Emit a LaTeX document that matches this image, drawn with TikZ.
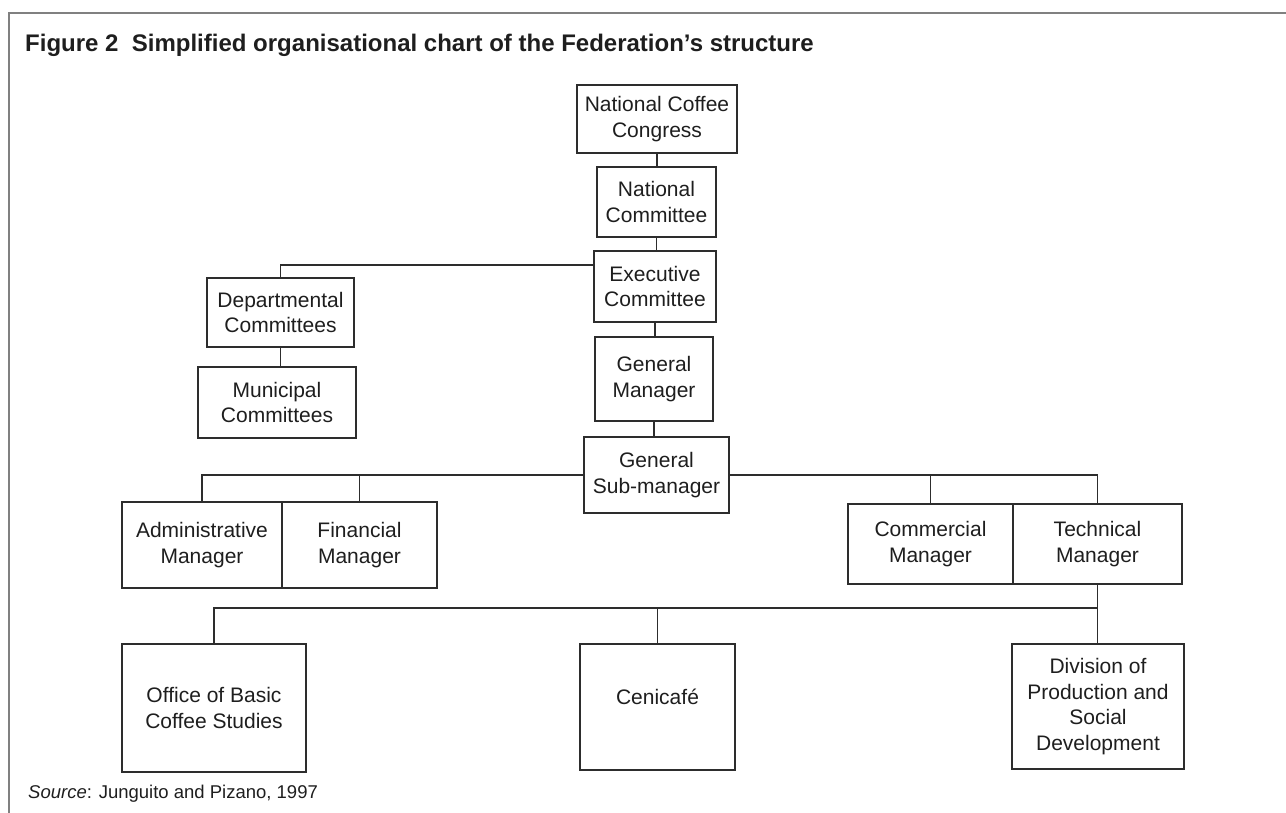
\documentclass[tikz,border=0pt]{standalone}
\usepackage{fontspec}
\setmainfont{Liberation Sans}
\usetikzlibrary{positioning}

\definecolor{framegray}{RGB}{128,128,128}
\definecolor{linegray}{RGB}{45,45,45}
\definecolor{textgray}{RGB}{30,30,30}

\begin{document}
\begin{tikzpicture}[x=1pt,y=-1pt,
  box/.style={draw=linegray, line width=1.2pt, align=center, inner sep=0pt,
    text=textgray, font=\fontsize{21}{25.5}\selectfont},
  link/.style={draw=linegray, line width=1.1pt}]
\useasboundingbox (0,0) rectangle (1286,813);

% frame and captions
\draw[framegray, line width=2.2pt] (1286,13) -- (9,13) -- (9,813);
\node[anchor=base west, inner sep=0pt, text=textgray,
  font=\fontsize{24}{28}\bfseries\selectfont] (title) at (25,52)
  {Figure 2~~Simplified organisational chart of the Federation’s structure};
\node[anchor=base west, inner sep=0pt, text=textgray,
  font=\fontsize{18.5}{22}\selectfont] (source) at (28,798)
  {\textit{Source}: Junguito and Pizano, 1997};

% central line of command
\node[box, minimum width=160pt, minimum height=68pt] (ncc) at (657,119) {National Coffee\\Congress};
\node[box, minimum width=119pt, minimum height=70pt] (nc) at (656.5,202) {National\\Committee};
\node[box, minimum width=122pt, minimum height=71pt] (ec) at (655,286.5) {Executive\\Committee};
\node[box, minimum width=118pt, minimum height=84pt] (gm) at (654,379) {General\\Manager};
\node[box, minimum width=145pt, minimum height=76pt] (sm) at (656.5,475) {General\\Sub-manager};

% regional committees
\node[box, minimum width=147pt, minimum height=69pt] (dc) at (280.5,312.5) {Departmental\\Committees};
\node[box, minimum width=158pt, minimum height=71pt] (mc) at (277,402.5) {Municipal\\Committees};

% managers
\node[box, minimum width=160pt, minimum height=86pt] (adm) at (202,545) {Administrative\\Manager};
\node[box, minimum width=155pt, minimum height=86pt] (fin) at (359.5,545) {Financial\\Manager};
\node[box, minimum width=165pt, minimum height=80pt] (com) at (930.5,544) {Commercial\\Manager};
\node[box, minimum width=169pt, minimum height=80pt] (tech) at (1097.5,544) {Technical\\Manager};

% technical units
\node[box, minimum width=184pt, minimum height=128pt] (obc) at (214,708) {Office of Basic\\Coffee Studies};
\node[box, minimum width=155pt, minimum height=126pt] (ceni) at (657.5,707) {};
\node[anchor=center, inner sep=0pt, text=textgray, font=\fontsize{21}{25.5}\selectfont] (cenitext) at (657.5,697) {Cenicafé};
\node[box, minimum width=172pt, minimum height=125pt] (dps) at (1098,706.5) {Division of\\Production and\\Social\\Development};

\coordinate (bus) at (1097.5,608);
\coordinate (ecl) at (594,265);

\draw[link] (ncc.south) -- (ncc.south |- nc.north);
\draw[link] (nc.south) -- (nc.south |- ec.north);
\draw[link] (ec.south) -- (ec.south |- gm.north);
\draw[link] (gm.south) -- (gm.south |- sm.north);
\draw[link] (ecl) -| (dc.north);
\draw[link] (dc.south) -- (dc.south |- mc.north);
\draw[link] (sm.west) -| (adm.north);
\draw[link] (fin.north) -- (fin.north |- sm.west);
\draw[link] (sm.east) -| (tech.north);
\draw[link] (com.north) -- (com.north |- sm.east);
\draw[link] (tech.south) -- (tech.south |- dps.north);
\draw[link] (obc.north) |- (bus);
\draw[link] (ceni.north) -- (ceni.north |- bus);
\end{tikzpicture}
\end{document}
